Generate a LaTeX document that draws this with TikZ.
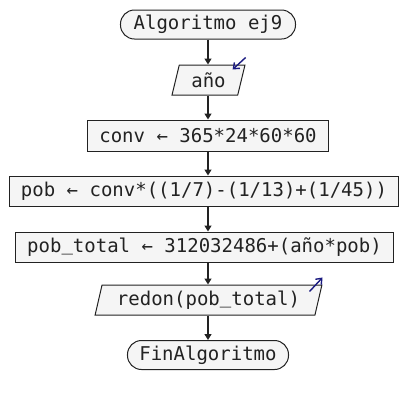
\documentclass[tikz,border=0pt]{standalone}
\usepackage{fontspec}
\setmonofont{DejaVu Sans Mono}
\usetikzlibrary{shapes.geometric,arrows.meta}
\definecolor{boxfill}{HTML}{F5F5F5}
\definecolor{ink}{HTML}{222222}
\definecolor{sigblue}{HTML}{1A1A80}
\newcommand{\usc}{\raisebox{1.5bp}{\char"5F}}
\begin{document}
\begin{tikzpicture}[x=1bp,y=-1bp,
  every node/.style={font=\ttfamily\fontsize{19bp}{23bp}\selectfont, text=ink},
  term/.style={draw=ink, fill=boxfill, rounded corners=14bp, minimum height=29bp, inner xsep=0pt, line width=1bp},
  proc/.style={draw=ink, fill=boxfill, rectangle, minimum height=30bp, inner xsep=2bp, inner ysep=0pt, line width=1bp},
  io/.style={draw=ink, fill=boxfill, trapezium, trapezium left angle=71.6, trapezium right angle=108.4, trapezium stretches=true, minimum height=30bp, inner xsep=3bp, inner ysep=0pt, line width=1bp},
  flow/.style={-{Triangle[length=6bp,width=7bp]}, line width=1.3bp, draw=ink},
  sig/.style={-{Straight Barb[length=5bp,width=8bp]}, line width=1.4bp, draw=sigblue}
]
\useasboundingbox (0,0) rectangle (416,405);
\node[term, minimum width=175bp] (start) at (208,24.5) {Algoritmo ej9};
\node[io, minimum width=73bp] (in) at (208.5,80) {año};
\node[proc, minimum width=240bp, minimum height=31bp] (conv) at (208,135.5) {conv ← 365*24*60*60};
\node[proc, minimum width=388bp] (pob) at (204,191) {pob ← conv*((1/7)-(1/13)+(1/45))};
\node[proc, minimum width=377bp] (tot) at (204.5,247) {pob\usc total ← 312032486+(año*pob)};
\node[io, minimum width=227bp] (out) at (208.5,300) {redon(pob\usc total)};
\node[term, minimum width=161bp] (end) at (208,355) {FinAlgoritmo};

\draw[flow] (start.south) -- (start.south |- in.north);
\draw[flow] (start.south |- in.south) -- (start.south |- conv.north);
\draw[flow] (conv.south) -- (conv.south |- pob.north);
\draw[flow] (conv.south |- pob.south) -- (conv.south |- tot.north);
\draw[flow] (conv.south |- tot.south) -- (conv.south |- out.north);
\draw[flow] (conv.south |- out.south) -- (conv.south |- end.north);

\coordinate (inA) at ([shift={(0,-7)}]in.top right corner);
\coordinate (inB) at ([shift={(-13,5)}]in.top right corner);
\draw[sig] (inA) -- (inB);
\coordinate (outA) at ([shift={(-13,7)}]out.top right corner);
\coordinate (outB) at ([shift={(0,-7)}]out.top right corner);
\draw[sig] (outA) -- (outB);
\end{tikzpicture}
\end{document}
